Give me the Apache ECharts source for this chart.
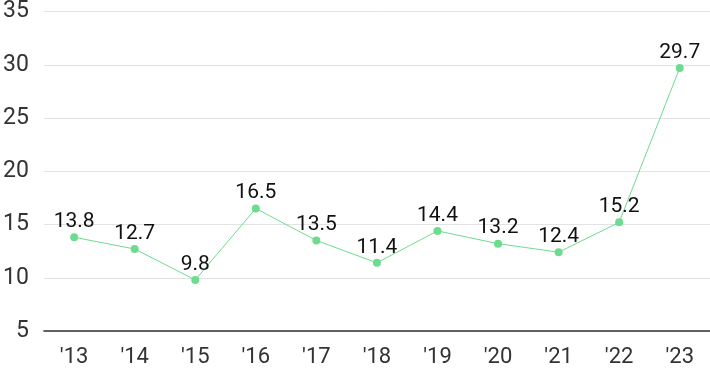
<!DOCTYPE html>
<html><head><meta charset="utf-8">
<script src="https://cdn.jsdelivr.net/npm/echarts@6/dist/echarts.min.js"></script>
<style>html,body{margin:0;padding:0;background:#fff}#c{width:710px;height:371px}</style>
</head><body><div id="c"></div>
<script>
const categories = ["'13","'14","'15","'16","'17","'18","'19","'20","'21","'22","'23"];
const values = [13.8,12.7,9.8,16.5,13.5,11.4,14.4,13.2,12.4,15.2,29.7];
const yTicks = {min:5, max:35, interval:5};
const chart = echarts.init(document.getElementById('c'));
chart.setOption({
  animation:false,
  grid:{left:42,right:0,top:7,bottom:40},
  xAxis:{type:'category',data:categories,boundaryGap:true,
    axisLine:{lineStyle:{color:'#333',width:1.5}},axisTick:{show:false},
    axisLabel:{color:'#333',fontSize:22,fontFamily:'Roboto',margin:15}},
  yAxis:{type:'value',min:yTicks.min,max:yTicks.max,interval:yTicks.interval,
    axisLine:{show:false},axisTick:{show:false},
    splitLine:{lineStyle:{color:'#e3e3e3',width:1}},
    axisLabel:{color:'#333',fontSize:23,fontFamily:'Roboto',margin:15}},
  series:[{type:'line',data:values,symbol:'circle',symbolSize:8,
    itemStyle:{color:'#6ddc8e'},lineStyle:{color:'#6ddc8e',width:1},
    label:{show:true,position:'top',distance:1,color:'#111',fontSize:21,fontFamily:'Roboto'}}]
});
</script></body></html>
